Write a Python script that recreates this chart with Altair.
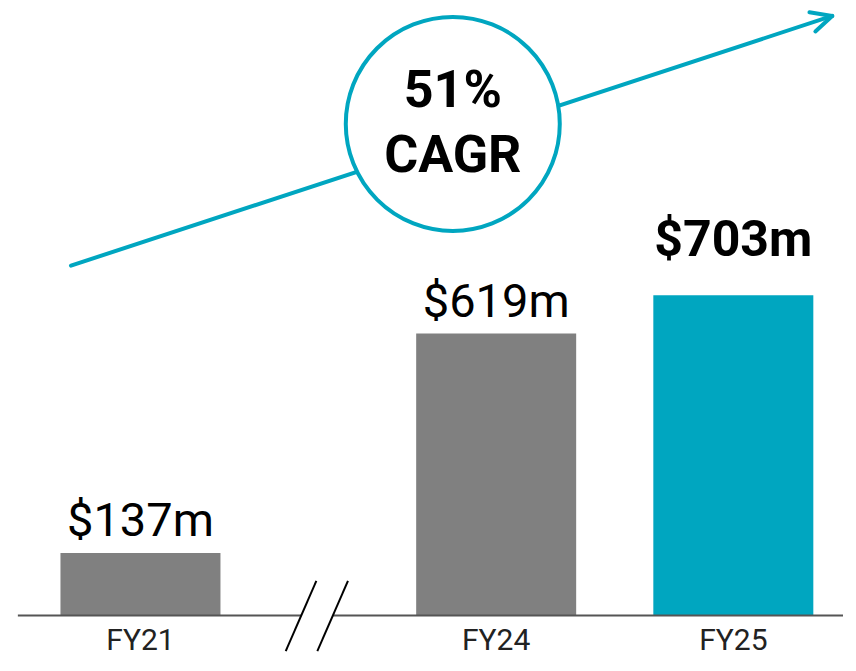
import altair as alt
import pandas as pd

# ---- data ----
categories = ["FY21", "FY24", "FY25"]
values = [137, 619, 703]
value_labels = ["$137m", "$619m", "$703m"]
slots = [0.0, 1.5, 2.5]          # category slots on the broken axis
highlight = [False, False, True]

cagr_lines = ["51%", "CAGR"]

# annotation geometry (in data units)
arrow_x = [-0.293, 2.917]
arrow_y = [768, 1316]
wing_x = [2.821, 2.846]
wing_y = [1324, 1282]
circle_x = [1.317]
circle_y = [1079]
cagr_text_y = [1116, 973]
axis_seg_x = [-0.517, 0.679, 0.8125, 2.9625]
break_x = [0.6125, 0.7417, 0.7458, 0.875]
break_y = [-78, 76]

TEAL = "#00A6C0"
GREY = "#808080"
FONT = "Roboto"

W, H = 840, 650
xs = alt.Scale(domain=[-0.5375, 2.9625], nice=False, zero=False)
ys = alt.Scale(domain=[-93.3, 1333.5], nice=False, zero=False)

bars_df = pd.DataFrame({"cat": categories, "val": values, "lab": value_labels,
                        "slot": slots, "hl": highlight})

X = lambda f="slot": alt.X(f, type="quantitative", scale=xs, axis=None)
Y = lambda f="val": alt.Y(f, type="quantitative", scale=ys, axis=None)

bars = alt.Chart(bars_df).mark_bar(size=160).encode(
    x=X(), y=Y(), y2=alt.datum(0),
    color=alt.Color("hl:N", scale=alt.Scale(domain=[False, True], range=[GREY, TEAL]), legend=None),
)

grey_labels = alt.Chart(bars_df).transform_filter("!datum.hl").mark_text(
    font=FONT, fontSize=47, color="#000", baseline="alphabetic", dy=-17
).encode(x=X(), y=Y(), text="lab:N")

hl_label = alt.Chart(bars_df).transform_filter("datum.hl").mark_text(
    font=FONT, fontSize=50, fontWeight="bold", color="#000", baseline="alphabetic", dy=-39
).encode(x=X(), y=Y(), text="lab:N")

cat_labels = alt.Chart(bars_df).transform_calculate(zero="0").mark_text(
    font=FONT, fontSize=30, color="#222", baseline="alphabetic", dy=35
).encode(x=X(), y=alt.Y("zero:Q", scale=ys, axis=None), text="cat:N")

axis_df = pd.DataFrame({"x": axis_seg_x[0::2], "x2": axis_seg_x[1::2], "y": [0, 0]})
axis_line = alt.Chart(axis_df).mark_rule(color="#555555", strokeWidth=2).encode(
    x=X("x"), x2="x2", y=Y("y"))

break_df = pd.DataFrame({"x": break_x[0::2], "x2": break_x[1::2],
                         "y": [break_y[0]] * 2, "y2": [break_y[1]] * 2})
breaks = alt.Chart(break_df).mark_rule(color="#000", strokeWidth=2).encode(
    x=X("x"), x2="x2", y=Y("y"), y2="y2")

arrow_df = pd.DataFrame({"x": [arrow_x[0], wing_x[0], wing_x[1]],
                         "y": [arrow_y[0], wing_y[0], wing_y[1]],
                         "x2": [arrow_x[1]] * 3, "y2": [arrow_y[1]] * 3})
arrow = alt.Chart(arrow_df).mark_rule(color=TEAL, strokeWidth=4, strokeCap="round").encode(
    x=X("x"), x2="x2", y=Y("y"), y2="y2")

circle_df = pd.DataFrame({"x": circle_x, "y": circle_y})
circle = alt.Chart(circle_df).mark_point(
    shape="circle", size=45796, filled=False, fill="white", fillOpacity=1,
    stroke=TEAL, strokeWidth=4, opacity=1
).encode(x=X("x"), y=Y("y"))

cagr_df = pd.DataFrame({"t": cagr_lines, "x": circle_x * 2, "y": cagr_text_y})
cagr = alt.Chart(cagr_df).mark_text(
    font=FONT, fontSize=52, fontWeight="bold", color="#000", baseline="alphabetic"
).encode(x=X("x"), y=Y("y"), text="t:N")

chart = alt.layer(
    arrow, circle, cagr, bars, axis_line, breaks, grey_labels, hl_label, cat_labels
).properties(
    width=W, height=H, autosize=alt.AutoSizeParams(type="none"), padding=0
).configure_view(stroke=None)

chart.save("out.html", embed_options={"renderer": "svg", "actions": False})
